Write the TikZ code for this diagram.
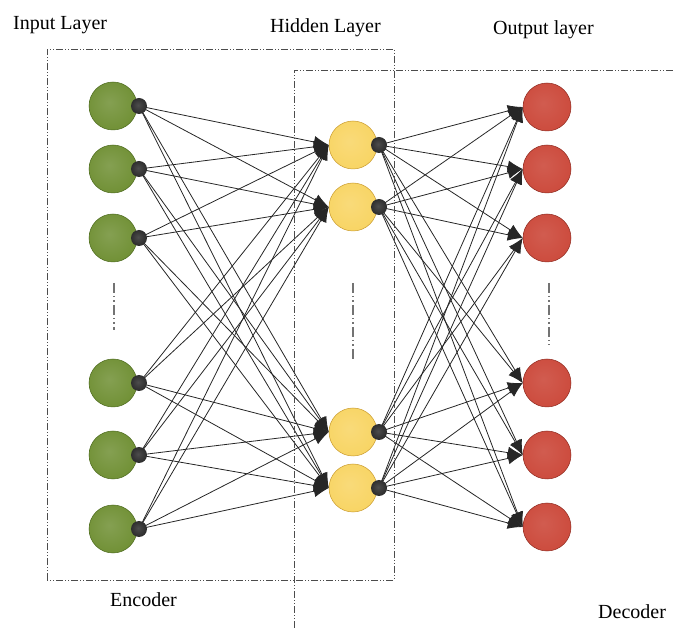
\documentclass[tikz,border=0pt]{standalone}
\usepackage{fontspec}
\setmainfont{Liberation Serif}
\usetikzlibrary{arrows.meta}
\pgfdeclarelayer{bg}
\pgfsetlayers{bg,main}
\definecolor{gin}{HTML}{6F8F33}
\definecolor{gout}{HTML}{4C6A1E}
\definecolor{yin}{HTML}{F8D462}
\definecolor{yout}{HTML}{C99B2E}
\definecolor{rin}{HTML}{CC4A3C}
\definecolor{rout}{HTML}{8E2A1F}
\pgfdeclareradialshading{greenball}{\pgfpoint{-4bp}{4bp}}{color(0bp)=(gin!85!white); color(30bp)=(gin); color(46bp)=(gin!85!black); color(50bp)=(gout)}
\pgfdeclareradialshading{yellowball}{\pgfpoint{-4bp}{4bp}}{color(0bp)=(yin!85!white); color(30bp)=(yin); color(46bp)=(yin!88!black); color(50bp)=(yout)}
\pgfdeclareradialshading{redball}{\pgfpoint{-4bp}{4bp}}{color(0bp)=(rin!90!white); color(30bp)=(rin); color(46bp)=(rin!88!black); color(50bp)=(rout)}
\pgfdeclareradialshading{dotball}{\pgfpoint{-3bp}{3bp}}{color(0bp)=(black!70); color(30bp)=(black!85); color(50bp)=(black!95)}
\begin{document}
\begin{tikzpicture}[x=1pt,y=-1pt,
  box/.style={draw=black!70, line width=0.6pt, dash pattern=on 7pt off 2pt on 1pt off 2pt on 1pt off 2pt},
  vdots/.style={draw=black!55, line width=1.3pt, dash pattern=on 10pt off 3pt on 1.5pt off 3pt on 1.5pt off 3pt},
  conn/.style={draw=black!85, line width=0.8pt, -{Latex[length=15pt,width=12pt]}},
  neuron/.style={circle, minimum size=48pt, inner sep=0pt, line width=0.5pt},
  inn/.style={neuron, shading=greenball, draw=gout},
  hid/.style={neuron, shading=yellowball, draw=yout},
  outn/.style={neuron, shading=redball, draw=rout},
  dotn/.style={circle, minimum size=16pt, inner sep=0pt, shading=dotball},
  lbl/.style={anchor=base west, inner sep=0pt, font=\fontsize{20}{22}\selectfont}
]
\useasboundingbox (0,0) rectangle (673,628);

% boxes
\draw[box] (47,580) -- (47,49) -- (394,49) -- (394,580) -- cycle;
\draw[box] (294,628) -- (294,70) -- (673,70);

% ellipses
\draw[vdots] (114,283) -- (114,330);
\draw[vdots] (353,283) -- (353,360);
\draw[vdots] (549,283) -- (549,345);

% input layer
\foreach \i/\y in {1/106,2/169,3/238,4/383,5/455,6/529} {
  \node[inn] (i\i) at (113,\y) {};
  \node[dotn] (a\i) at (139,\y) {};
}
% hidden layer
\foreach \i/\y in {1/145,2/207,3/432,4/488} {
  \node[hid] (h\i) at (353,\y) {};
  \node[dotn] (b\i) at (379,\y) {};
}
% output layer
\foreach \i/\y in {1/107,2/169,3/238,4/383,5/455,6/527} {
  \node[outn] (o\i) at (547,\y) {};
}

\begin{pgfonlayer}{bg}
\foreach \i in {1,...,6} {
  \foreach \j in {1,...,4} {
    \draw[conn] (a\i.center) -- (h\j.west);
    \draw[conn] (b\j.center) -- (o\i.west);
  }
}
\end{pgfonlayer}

% labels
\node[lbl] (tin) at (13,30) {Input Layer};
\node[lbl] (thid) at (270,33) {Hidden Layer};
\node[lbl] (tout) at (493,35) {Output layer};
\node[lbl] (tenc) at (110,607) {Encoder};
\node[lbl] (tdec) at (598,619) {Decoder};
\end{tikzpicture}
\end{document}
